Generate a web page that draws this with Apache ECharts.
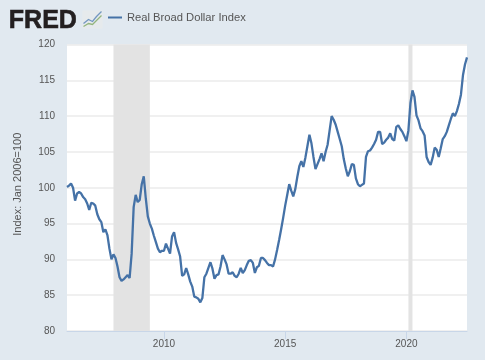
<!DOCTYPE html>
<html>
<head>
<meta charset="utf-8">
<style>
  html, body { margin: 0; padding: 0; background: #e1e9f0; }
  #chart { width: 485px; height: 360px; }
</style>
<script src="https://cdn.jsdelivr.net/npm/echarts@6/dist/echarts.min.js"></script>
</head>
<body>
<div id="chart"></div>
<script>
// monthly values, one row per year
let y2006 = [100.1, 100.3, 100.6, 100.0, 98.2, 99.2, 99.4, 99.2, 98.7, 98.4, 97.8, 96.9]
let y2007 = [97.9, 97.8, 97.5, 96.3, 95.6, 95.2, 93.8, 94.2, 93.4, 91.5, 90.0, 90.7]
let y2008 = [90.2, 89.0, 87.5, 87.0, 87.2, 87.5, 87.8, 87.4, 90.8, 97.3, 99.0, 98.0]
let y2009 = [98.3, 100.5, 101.6, 98.5, 96.0, 95.0, 94.3, 93.3, 92.4, 91.5, 91.0, 91.2]
let y2010 = [91.2, 92.2, 91.5, 90.8, 93.2, 93.8, 92.3, 91.4, 90.4, 87.7, 87.9, 88.8]
let y2011 = [87.9, 86.9, 86.2, 84.8, 84.7, 84.5, 84.0, 84.6, 87.5, 88.0, 88.8, 89.6]
let y2012 = [88.7, 87.3, 87.8, 87.9, 89.0, 90.6, 90.0, 89.3, 88.0, 88.0, 88.2, 87.7]
let y2013 = [87.5, 88.0, 88.8, 88.1, 88.5, 89.2, 89.8, 89.9, 89.5, 88.1, 88.9, 89.1]
let y2014 = [90.2, 90.2, 89.9, 89.5, 89.2, 89.2, 89.0, 90.0, 91.3, 92.7, 94.2, 95.8]
let y2015 = [97.5, 99.0, 100.5, 99.6, 98.8, 99.8, 101.5, 103.0, 103.7, 102.9, 104.2, 105.8]
let y2016 = [107.4, 106.2, 104.3, 102.6, 103.3, 104.0, 104.8, 103.7, 105.0, 106.0, 108.0, 110.0]
let y2017 = [109.5, 108.8, 107.8, 106.8, 105.8, 104.0, 102.7, 101.6, 102.3, 103.3, 103.2, 101.3]
let y2018 = [100.5, 100.2, 100.4, 100.6, 104.3, 105.1, 105.2, 105.6, 106.1, 106.7, 107.8, 107.8]
let y2019 = [106.1, 106.3, 106.7, 107.0, 107.6, 106.8, 106.6, 108.5, 108.7, 108.2, 107.8, 107.2]
let y2020 = [106.5, 108.0, 111.8, 113.6, 112.7, 110.1, 109.4, 108.3, 107.9, 107.3, 104.3, 103.6]
let y2021 = [103.2, 104.2, 105.6, 105.3, 104.3, 105.5, 106.8, 107.2, 107.8, 108.7, 109.6, 110.4]
let y2022 = [110.0, 110.7, 111.7, 113.0, 115.7, 117.2, 118.2]

let yearRows = [y2006, y2007, y2008, y2009, y2010, y2011, y2012, y2013, y2014, y2015, y2016, y2017, y2018, y2019, y2020, y2021, y2022]
let labelYears = ['2010', '2015', '2020']
let recessions = [['2007-12', '2009-06'], ['2020-02', '2020-04']]

let months = []
let values = []
yearRows.forEach(function (row, i) {
  row.forEach(function (v, m) {
    months.push((2006 + i) + '-' + String(m + 1).padStart(2, '0'))
    values.push(v)
  })
})

function isLabelMonth(index, value) {
  return labelYears.indexOf(value.slice(0, 4)) >= 0 && value.slice(5) === '01'
}

let font = '"Liberation Sans", Arial, sans-serif'
let chart = echarts.init(document.getElementById('chart'))

chart.setOption({
  animation: false,
  backgroundColor: '#e1e9f0',
  textStyle: { fontFamily: font },
  grid: { left: 67, right: 18, top: 44.5, bottom: 29, backgroundColor: '#fff', show: true, borderWidth: 0 },
  legend: {
    left: 103,
    top: 7,
    itemWidth: 14,
    itemHeight: 2,
    icon: 'rect',
    itemGap: 5,
    textStyle: { color: '#555', fontSize: 11.2, fontFamily: font },
    data: ['Real Broad Dollar Index']
  },
  xAxis: {
    type: 'category',
    data: months,
    boundaryGap: false,
    axisLine: { lineStyle: { color: '#c8d6e8', width: 1 } },
    axisTick: { interval: isLabelMonth, length: 8, lineStyle: { color: '#c8d6e8' } },
    axisLabel: {
      interval: isLabelMonth,
      color: '#555',
      fontSize: 10,
      margin: 8,
      formatter: function (v) { return v.slice(0, 4) }
    },
    splitLine: { show: false }
  },
  yAxis: {
    type: 'value',
    min: 80,
    max: 120,
    interval: 5,
    name: 'Index: Jan 2006=100',
    nameLocation: 'middle',
    nameGap: 44,
    nameTextStyle: { color: '#555', fontSize: 11, padding: [0, 0, 0, 7] },
    axisLine: { show: false },
    axisTick: { show: false },
    axisLabel: { color: '#555', fontSize: 10, margin: 12 },
    splitLine: { lineStyle: { color: '#ebebeb', width: 1.5 } }
  },
  series: [{
    name: 'Real Broad Dollar Index',
    type: 'line',
    data: values,
    showSymbol: false,
    smooth: false,
    lineStyle: { color: '#4572a7', width: 2.3 },
    itemStyle: { color: '#4572a7' },
    markArea: {
      silent: true,
      itemStyle: { color: '#e3e3e3' },
      data: recessions.map(function (r) { return [{ xAxis: r[0] }, { xAxis: r[1] }] })
    }
  }],
  graphic: [
    {
      type: 'text',
      left: 8.5,
      top: 8,
      style: { text: 'FRED', font: 'bold 25px ' + font, fill: '#231f20', stroke: '#231f20', lineWidth: 0.6 }
    },
    {
      type: 'group',
      left: 81,
      top: 9,
      children: [
        { type: 'rect', shape: { x: 0, y: 0, width: 20, height: 18 }, style: { fill: '#e6eaec' } },
        { type: 'polyline', shape: { points: [[1, 13], [6, 9], [10, 11], [14, 6], [19, 1]] }, style: { fill: 'none', stroke: '#7397c0', lineWidth: 1.3 } },
        { type: 'polyline', shape: { points: [[1, 16], [6, 13], [10, 14], [14, 10], [19, 5]] }, style: { fill: 'none', stroke: '#93b57e', lineWidth: 1.3 } }
      ]
    }
  ]
})
</script>
</body>
</html>
